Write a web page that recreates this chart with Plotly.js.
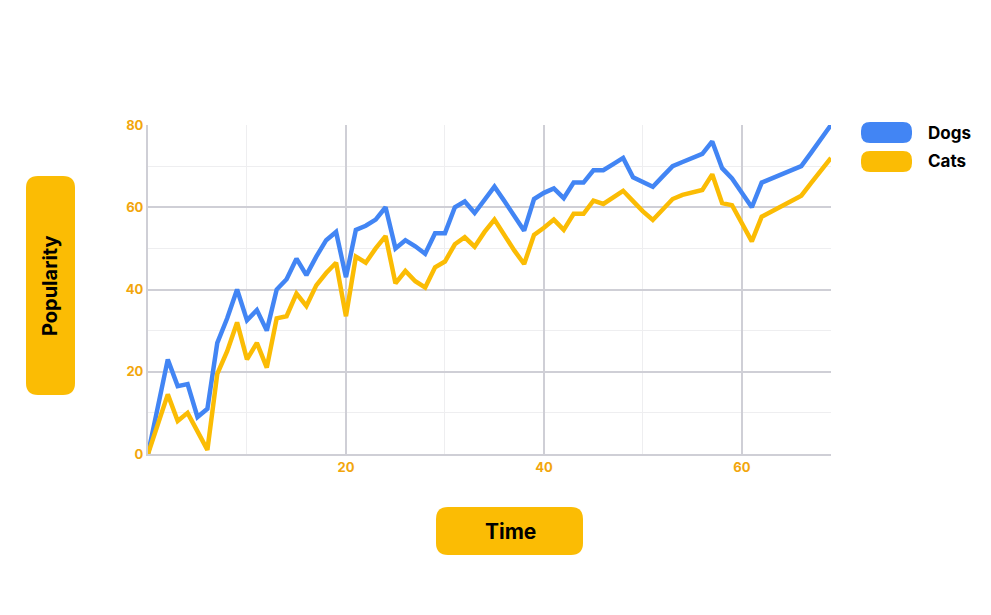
<!DOCTYPE html>
<html>
<head>
<meta charset="utf-8">
<script src="https://cdn.plot.ly/plotly-3.0.1.min.js"></script>
<style>
  html, body { margin: 0; padding: 0; background: #ffffff; }
  #chart { width: 991px; height: 615px; }
</style>
</head>
<body>
<div id="chart"></div>
<script>
// ---- data ----
const time = [];
for (let i = 0; i <= 69; i++) time.push(i);

const dogs = [0, 11, 23, 16.5, 17, 9, 11, 27, 33, 40,
              32.5, 35, 30, 40, 42.5, 47.5, 43.5, 48, 52, 54,
              43, 54.5, 55.5, 57, 60, 50, 52, 50.5, 48.7, 53.7,
              53.7, 60, 61.4, 58.6, 62, 65, 61.5, 58, 54.3, 62,
              63.5, 64.6, 62.2, 66, 66, 69, 69, 70.5, 72, 67.3,
              66, 65, 67.5, 70, 71, 72, 73, 76, 69.5, 67,
              63.5, 60, 66, 67, 68, 69, 70, 73.3, 76.7, 80];

const cats = [0, 7, 14.5, 8, 10, 5.5, 1, 19.5, 25, 32,
              23, 27, 21, 33, 33.5, 39, 36, 41, 44, 46.5,
              33.5, 48, 46.5, 50, 53, 41.5, 44.5, 42, 40.5, 45.4,
              46.8, 51, 52.7, 50.4, 54, 57, 53, 49.5, 46.2, 53.3,
              55, 57, 54.5, 58.4, 58.4, 61.6, 60.8, 62.5, 64, 61.5,
              59, 56.9, 59.5, 62, 63, 63.5, 64.2, 68, 61, 60.5,
              56, 51.7, 57.7, 59, 60.5, 61.7, 62.8, 65.9, 69, 72];

const seriesNames = ['Dogs', 'Cats'];
const xTickVals = [20, 40, 60];
const yTickVals = [0, 20, 40, 60, 80];
const xTitle = 'Time';
const yTitle = 'Popularity';

// ---- styling ----
const BLUE = '#4285F4';
const YELLOW = '#FBBC04';
const TICK = '#F2A60C';
const FONT = 'Inter, Roboto, "DejaVu Sans", sans-serif';

const W = 991, H = 615;
const M = { l: 148, r: 160, t: 125, b: 161 };
const PW = W - M.l - M.r, PH = H - M.t - M.b;
const px2x = p => (p - M.l) / PW;
const px2y = p => (H - M.b - p) / PH;

function roundRect(x0, y0, x1, y1, r, color) {
  const P = (x, y) => px2x(x).toFixed(5) + ',' + px2y(y).toFixed(5);
  const path = 'M' + P(x0 + r, y0) + ' L' + P(x1 - r, y0) +
    ' Q' + P(x1, y0) + ' ' + P(x1, y0 + r) +
    ' L' + P(x1, y1 - r) + ' Q' + P(x1, y1) + ' ' + P(x1 - r, y1) +
    ' L' + P(x0 + r, y1) + ' Q' + P(x0, y1) + ' ' + P(x0, y1 - r) +
    ' L' + P(x0, y0 + r) + ' Q' + P(x0, y0) + ' ' + P(x0 + r, y0) + ' Z';
  return { type: 'path', xref: 'paper', yref: 'paper', path: path,
           fillcolor: color, line: { width: 0 }, layer: 'above' };
}

const traces = [
  { x: time, y: dogs, name: seriesNames[0], type: 'scatter', mode: 'lines',
    line: { color: BLUE, width: 4.5 }, showlegend: false },
  { x: time, y: cats, name: seriesNames[1], type: 'scatter', mode: 'lines',
    line: { color: YELLOW, width: 4.5 }, showlegend: false }
];

const shapes = [
  roundRect(26, 176, 75, 395, 12, YELLOW),
  roundRect(436, 507, 583, 555, 12, YELLOW),
  roundRect(861, 122, 912, 143, 9, BLUE),
  roundRect(861, 151, 912, 172, 9, YELLOW)
];

const annotations = [
  { text: yTitle, xref: 'paper', yref: 'paper', x: px2x(50), y: px2y(286),
    xanchor: 'center', yanchor: 'middle',
    showarrow: false, textangle: -90, font: { family: FONT, size: 20, color: '#000', weight: 'bold' } },
  { text: xTitle, xref: 'paper', yref: 'paper', x: px2x(510), y: px2y(531),
    xanchor: 'center', yanchor: 'middle',
    showarrow: false, font: { family: FONT, size: 21, color: '#000', weight: 'bold' } },
  { text: seriesNames[0], xref: 'paper', yref: 'paper', x: px2x(926), y: px2y(133),
    xanchor: 'left', yanchor: 'middle', showarrow: false,
    font: { family: FONT, size: 17, color: '#000', weight: 'bold' } },
  { text: seriesNames[1], xref: 'paper', yref: 'paper', x: px2x(926), y: px2y(161),
    xanchor: 'left', yanchor: 'middle', showarrow: false,
    font: { family: FONT, size: 17, color: '#000', weight: 'bold' } }
];

const layout = {
  width: W, height: H,
  margin: M,
  paper_bgcolor: '#ffffff',
  plot_bgcolor: '#ffffff',
  font: { family: FONT },
  showlegend: false,
  xaxis: {
    range: [0, 69],
    tickvals: xTickVals,
    ticktext: xTickVals.map(String),
    tickfont: { family: FONT, size: 13, color: TICK, weight: 'bold' },
    showgrid: true, gridcolor: '#CFCFD6', gridwidth: 2,
    minor: { dtick: 10, tick0: 0, showgrid: true, gridcolor: '#EEEEF0', gridwidth: 1 },
    zeroline: false,
    showline: true, linecolor: '#CFCFD6', linewidth: 2,
    ticks: '', fixedrange: true
  },
  yaxis: {
    range: [0, 80],
    tickvals: yTickVals,
    ticktext: yTickVals.map(String),
    tickfont: { family: FONT, size: 13, color: TICK, weight: 'bold' },
    showgrid: true, gridcolor: '#CFCFD6', gridwidth: 2,
    minor: { dtick: 10, tick0: 0, showgrid: true, gridcolor: '#EEEEF0', gridwidth: 1 },
    zeroline: false,
    showline: true, linecolor: '#CFCFD6', linewidth: 2,
    ticks: '', fixedrange: true
  },
  shapes: shapes,
  annotations: annotations
};

Plotly.newPlot('chart', traces, layout, { displayModeBar: false, staticPlot: true });
</script>
</body>
</html>
